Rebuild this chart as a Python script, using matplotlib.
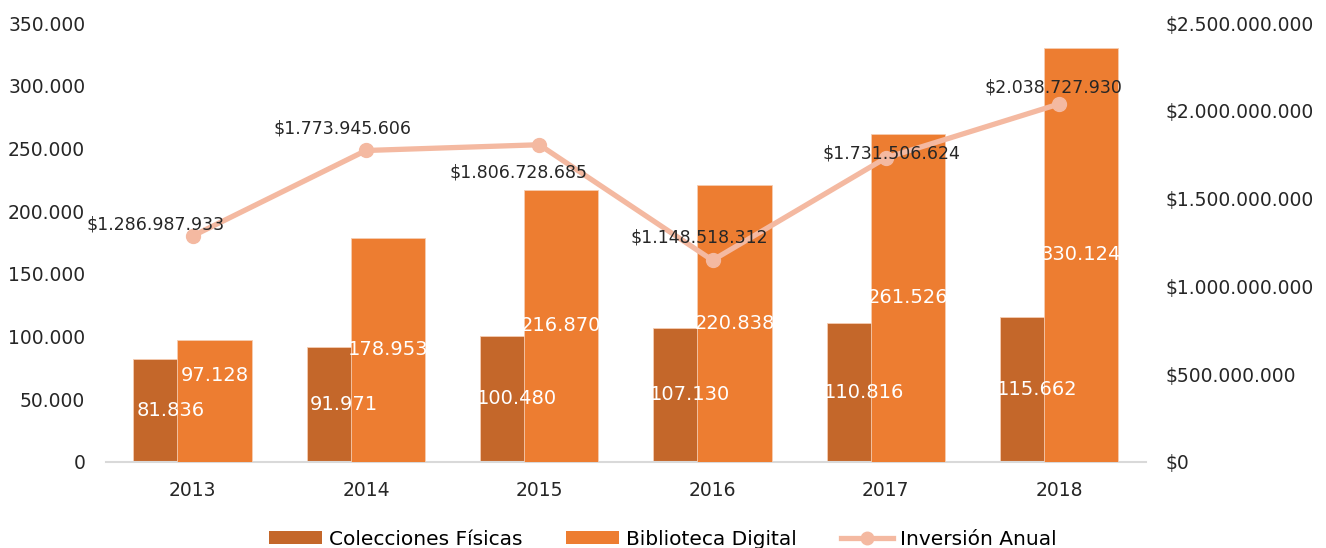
import matplotlib
matplotlib.use("Agg")
import matplotlib.pyplot as plt
import numpy as np
from matplotlib.lines import Line2D
from matplotlib.patches import Patch

years = ["2013", "2014", "2015", "2016", "2017", "2018"]
colecciones_fisicas = [81836, 91971, 100480, 107130, 110816, 115662]
biblioteca_digital = [97128, 178953, 216870, 220838, 261526, 330124]
inversion_anual = [1286987933, 1773945606, 1806728685, 1148518312, 1731506624, 2038727930]

left_ticks = [0, 50000, 100000, 150000, 200000, 250000, 300000, 350000]
right_ticks = [0, 500000000, 1000000000, 1500000000, 2000000000, 2500000000]

# label nudges for the investment line, in pixels (dx, dy)
line_label_offsets = [(-37, 11), (-23, 22), (-21, -28), (-13, 23), (6, 4), (-6, 17)]
# vertical nudge of digital labels, in pixels
digital_label_nudge = [26, 0, 0, 0, 0, 0]

DARK = "#C4672A"
LIGHT = "#ED7D31"
LINE = "#F4B9A1"
EDGE = "#F6CDB2"
FONT = "DejaVu Sans"


def fmt(v):
    return f"{v:,}".replace(",", ".")


plt.rcParams["font.family"] = FONT

fig = plt.figure(figsize=(13.26, 5.48), dpi=100)
ax = fig.add_axes([0.080, 0.157, 0.784, 0.801])
ax2 = ax.twinx()

x = np.arange(len(years))
width = 0.43
offset = 0.127

bars_f = ax.bar(x - offset, colecciones_fisicas, width, color=DARK,
                edgecolor=EDGE, linewidth=0.6, zorder=2)
bars_d = ax.bar(x + offset, biblioteca_digital, width, color=LIGHT,
                edgecolor=EDGE, linewidth=0.6, zorder=3)

for b, v in zip(bars_f, colecciones_fisicas):
    ax.text(b.get_x() + b.get_width() / 2, v / 2, fmt(v), color="white",
            fontsize=14, ha="center", va="center", zorder=4)

for b, v, dy in zip(bars_d, biblioteca_digital, digital_label_nudge):
    ax.annotate(fmt(v), (b.get_x() + b.get_width() / 2, v / 2),
                xytext=(0, dy), textcoords="offset pixels", color="white",
                fontsize=14, ha="center", va="center", zorder=4)

ax.set_xlim(-0.5, len(years) - 0.5)
ax.set_ylim(0, 350000)
ax.set_yticks(left_ticks)
ax.set_yticklabels([fmt(t) for t in left_ticks])
ax.set_xticks(x)
ax.set_xticklabels(years)

ax2.plot(x, inversion_anual, color=LINE, linewidth=3.8, marker="o",
         markersize=10, solid_capstyle="round")
for xi, v, (dx, dy) in zip(x, inversion_anual, line_label_offsets):
    ax2.annotate("$" + fmt(v), (xi, v), xytext=(dx, dy),
                 textcoords="offset pixels", fontsize=12.5, color="#262626",
                 ha="center", va="center")
ax2.set_ylim(0, 2500000000)
ax2.set_yticks(right_ticks)
ax2.set_yticklabels(["$" + fmt(t) for t in right_ticks])

for a in (ax, ax2):
    for s in a.spines.values():
        s.set_visible(False)
    a.tick_params(length=0, labelsize=13.5, colors="#262626")
ax.spines["bottom"].set_visible(True)
ax.spines["bottom"].set_color("#D9D9D9")
ax.spines["bottom"].set_linewidth(1.5)
ax.tick_params(axis="y", pad=15)
ax.tick_params(axis="x", pad=14)
ax2.tick_params(axis="y", pad=14)

handles = [
    Patch(facecolor=DARK, edgecolor="none"),
    Patch(facecolor=LIGHT, edgecolor="none"),
    Line2D([0], [0], color=LINE, linewidth=3.8, marker="o", markersize=9),
]
fig.legend(handles, ["Colecciones Físicas", "Biblioteca Digital", "Inversión Anual"],
           loc="center", bbox_to_anchor=(0.5, 0.016), ncol=3, frameon=False,
           fontsize=14.5, handlelength=2.6, handleheight=0.65,
           handletextpad=0.35, columnspacing=2.2)

fig.savefig("out.png", dpi=100)
